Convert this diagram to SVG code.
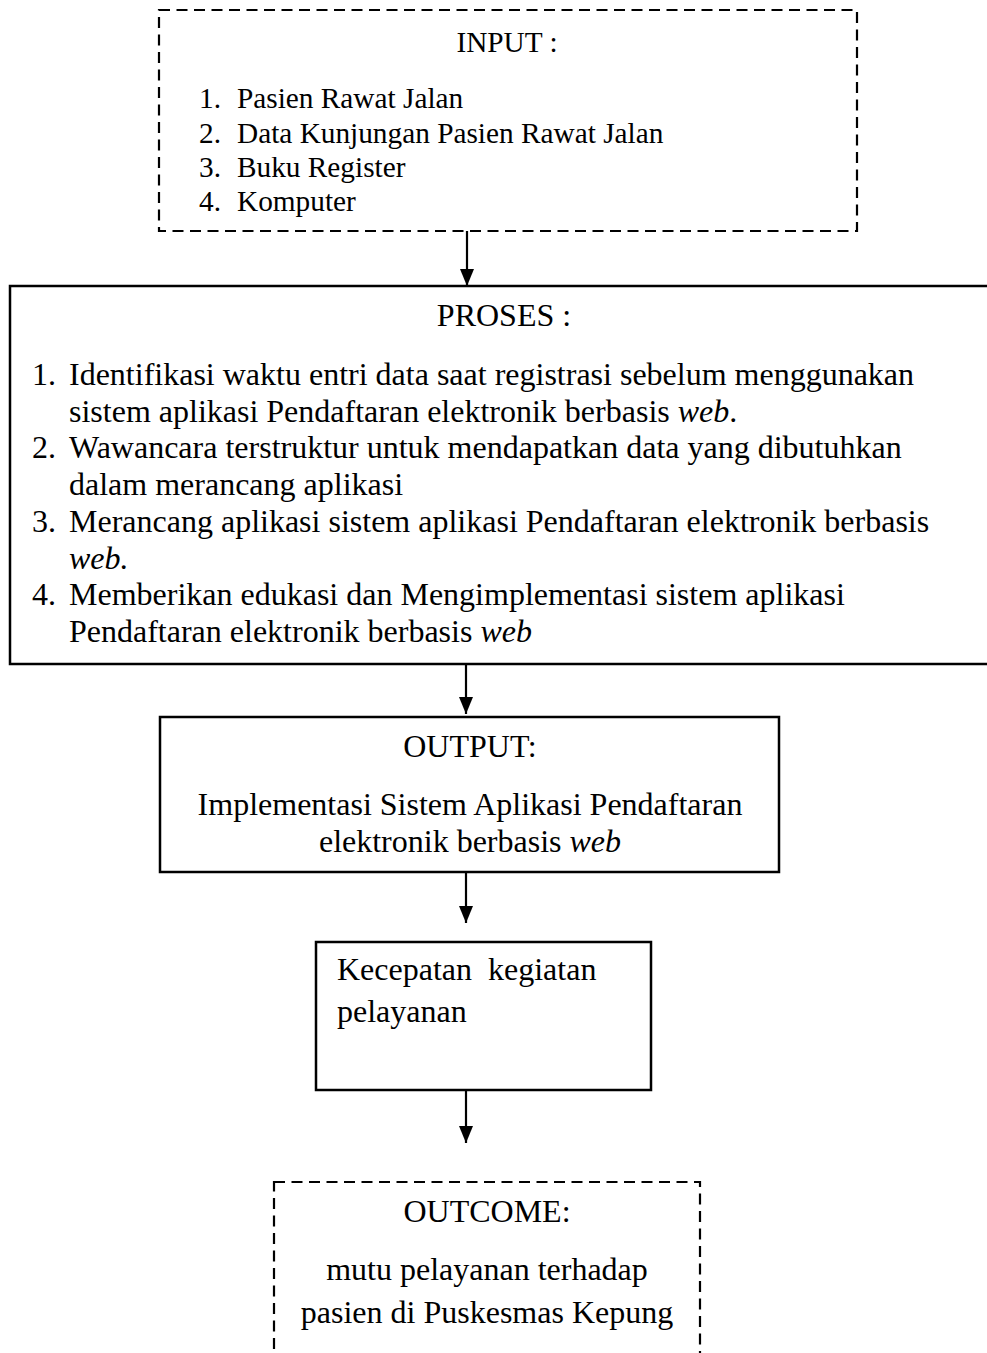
<svg xmlns="http://www.w3.org/2000/svg" width="987" height="1353" viewBox="0 0 987 1353">
<style>
text{font-family:"Liberation Serif","Times New Roman",serif;fill:#000;}
.s{font-size:29.3px;}
.m{font-size:32px;}
.c{text-anchor:middle;}
.i{font-style:italic;}
.dash{fill:none;stroke:#000;stroke-width:2.2;stroke-dasharray:11 6.5;}
.box{fill:none;stroke:#000;stroke-width:2.5;}
.con{fill:none;stroke:#000;stroke-width:2.2;}
</style>
<defs>
<marker id="ah" markerUnits="userSpaceOnUse" markerWidth="17" markerHeight="14" refX="17" refY="7" orient="auto">
<path d="M0,0 L17,7 L0,14 z" fill="#000"/>
</marker>
</defs>
<rect width="987" height="1353" fill="#fff"/>
<g id="input">
<rect class="dash" x="159" y="10" width="698" height="221"/>
<text class="s c" x="507" y="52">INPUT :</text>
<text class="s" x="199" y="108">1.</text><text class="s" x="237" y="108">Pasien Rawat Jalan</text>
<text class="s" x="199" y="142.5">2.</text><text class="s" x="237" y="142.5">Data Kunjungan Pasien Rawat Jalan</text>
<text class="s" x="199" y="177">3.</text><text class="s" x="237" y="177">Buku Register</text>
<text class="s" x="199" y="211">4.</text><text class="s" x="237" y="211">Komputer</text>
</g>
<g id="proses">
<rect class="box" x="10" y="286" width="1000" height="378"/>
<text class="m c" x="504" y="326">PROSES :</text>
<text class="m" x="32" y="385">1.</text><text class="m" x="69" y="385">Identifikasi waktu entri data saat registrasi sebelum menggunakan</text>
<text class="m" x="69" y="421.7">sistem aplikasi Pendaftaran elektronik berbasis <tspan class="i">web</tspan>.</text>
<text class="m" x="32" y="458.4">2.</text><text class="m" x="69" y="458.4">Wawancara terstruktur untuk mendapatkan data yang dibutuhkan</text>
<text class="m" x="69" y="495">dalam merancang aplikasi</text>
<text class="m" x="32" y="531.8">3.</text><text class="m" x="69" y="531.8">Merancang aplikasi sistem aplikasi Pendaftaran elektronik berbasis</text>
<text class="m" x="69" y="568.5"><tspan class="i">web.</tspan></text>
<text class="m" x="32" y="605">4.</text><text class="m" x="69" y="605">Memberikan edukasi dan Mengimplementasi sistem aplikasi</text>
<text class="m" x="69" y="642">Pendaftaran elektronik berbasis <tspan class="i">web</tspan></text>
</g>
<g id="output">
<rect class="box" x="160" y="717" width="619" height="155"/>
<text class="m c" x="470" y="757">OUTPUT:</text>
<text class="m c" x="470" y="815">Implementasi Sistem Aplikasi Pendaftaran</text>
<text class="m c" x="470" y="852">elektronik berbasis <tspan class="i">web</tspan></text>
</g>
<g id="kecepatan">
<rect class="box" x="316" y="942" width="335" height="148" stroke-width="2.2"/>
<text class="m" x="337" y="980" xml:space="preserve">Kecepatan  kegiatan</text>
<text class="m" x="337" y="1022">pelayanan</text>
</g>
<g id="outcome">
<rect class="dash" x="274" y="1182" width="426" height="200"/>
<text class="m c" x="487" y="1222">OUTCOME:</text>
<text class="m c" x="487" y="1280">mutu pelayanan terhadap</text>
<text class="m c" x="487" y="1323">pasien di Puskesmas Kepung</text>
</g>
<g id="connectors">
<path class="con" d="M467,231 L467,286" marker-end="url(#ah)"/>
<path class="con" d="M466,664 L466,714" marker-end="url(#ah)"/>
<path class="con" d="M466,872 L466,923" marker-end="url(#ah)"/>
<path class="con" d="M466,1090 L466,1143" marker-end="url(#ah)"/>
</g>
</svg>
